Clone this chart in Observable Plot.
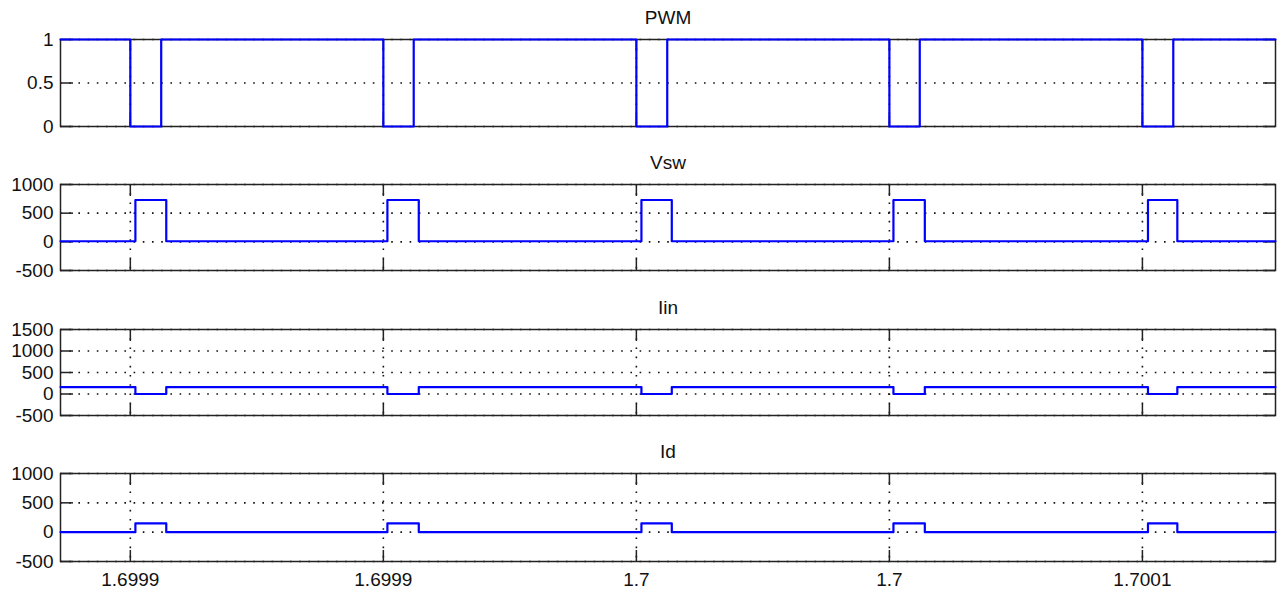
<!DOCTYPE html>
<html><head><meta charset="utf-8">
<script src="https://cdn.jsdelivr.net/npm/d3@7"></script>
<script src="https://cdn.jsdelivr.net/npm/@observablehq/plot@0.6"></script>
<style>
html,body{margin:0;padding:0;background:#fff;}
#chart{position:relative;width:1284px;height:594px;overflow:hidden;}
#chart svg{display:block;position:absolute;left:0;}
</style></head><body><div id="chart"></div>
<script>
// ---- data ----
const panelTitles = ["PWM", "Vsw", "Iin", "Id"];
const xTicks = [1.69990, 1.69995, 1.70000, 1.70005, 1.70010];
const xTickLabels = ["1.6999", "1.6999", "1.7", "1.7", "1.7001"];
const xDomain = [1.6998862, 1.7001263];

// PWM gate signal: drops to 0 at each fall, returns to 1 at each rise
const pwmFall = [1.6999000, 1.6999500, 1.7000000, 1.7000500, 1.7001000];
const pwmRise = [1.6999061, 1.6999560, 1.7000061, 1.7000560, 1.7001061];
const pwmLevels = [1, 0];      // [between pulses, during pulse]

// switch-node events (Vsw, Iin, Id change together)
const swOn  = [1.6999010, 1.6999508, 1.7000010, 1.7000508, 1.7001011];
const swOff = [1.6999071, 1.6999570, 1.7000070, 1.7000570, 1.7001069];
const vswLevels = [10, 730];   // [between pulses, during pulse]
const iinLevels = [160, 0];
const idLevels  = [0, 150];

const yDomainPWM = [0, 1],        yTicksPWM = [0, 0.5, 1];
const yDomainVsw = [-500, 1000],  yTicksVsw = [-500, 0, 500, 1000];
const yDomainIin = [-500, 1500],  yTicksIin = [-500, 0, 500, 1000, 1500];
const yDomainId  = [-500, 1000],  yTicksId  = [-500, 0, 500, 1000];

// ---- build step series ----
function steps(starts, ends, levels) {
  const pts = [{t: xDomain[0], v: levels[0]}];
  starts.forEach((s, i) => {
    pts.push({t: s, v: levels[1]});
    pts.push({t: ends[i], v: levels[0]});
  });
  pts.push({t: xDomain[1], v: levels[0]});
  return pts;
}

const panels = [
  {title: panelTitles[0], data: steps(pwmFall, pwmRise, pwmLevels), domain: yDomainPWM, ticks: yTicksPWM},
  {title: panelTitles[1], data: steps(swOn, swOff, vswLevels), domain: yDomainVsw, ticks: yTicksVsw},
  {title: panelTitles[2], data: steps(swOn, swOff, iinLevels), domain: yDomainIin, ticks: yTicksIin},
  {title: panelTitles[3], data: steps(swOn, swOff, idLevels), domain: yDomainId, ticks: yTicksId}
];

const layout = [
  {top: 0,   mt: 39, boxH: 87, mb: 29},
  {top: 155, mt: 29, boxH: 86, mb: 30},
  {top: 300, mt: 29, boxH: 86, mb: 29},
  {top: 444, mt: 29, boxH: 88, mb: 33}
];

const ink = "#222";
const gridStyle = {stroke: "#111", strokeOpacity: 1, strokeWidth: 1.6, strokeDasharray: "1.6,7.6"};
const tickStyle = {stroke: ink, strokeWidth: 1.5, text: null, label: null};
const font = "'Liberation Sans', Arial, Helvetica, sans-serif";

const root = document.getElementById("chart");
panels.forEach((p, i) => {
  const L = layout[i];
  const last = i === panels.length - 1;
  const svg = Plot.plot({
    width: 1284,
    height: L.mt + L.boxH + L.mb,
    marginLeft: 60, marginRight: 9, marginTop: L.mt, marginBottom: L.mb,
    style: `font-family:${font};font-size:19px;background:transparent;color:#111;overflow:visible;`,
    x: {domain: xDomain},
    y: {domain: p.domain},
    marks: [
      Plot.gridY(p.ticks, gridStyle),
      Plot.gridX(xTicks, gridStyle),
      Plot.frame({stroke: ink, strokeWidth: 1.5}),
      Plot.axisY(p.ticks, {anchor: "left", tickSize: 0, tickPadding: 7, tickFormat: d => String(d), fontSize: 19, label: null}),
      Plot.axisY(p.ticks, {anchor: "right", frameAnchor: "left", tickSize: 12, ...tickStyle}),
      Plot.axisY(p.ticks, {anchor: "left", frameAnchor: "right", tickSize: 12, ...tickStyle}),
      Plot.axisX(xTicks, {anchor: "top", frameAnchor: "bottom", tickSize: 12, ...tickStyle}),
      Plot.axisX(xTicks, {anchor: "bottom", frameAnchor: "top", tickSize: 12, ...tickStyle}),
      last ? Plot.axisX(xTicks, {anchor: "bottom", tickSize: 0, tickPadding: 11, fontSize: 19, label: null,
                                 tickFormat: d => xTickLabels[xTicks.indexOf(d)]}) : null,
      Plot.line(p.data, {x: "t", y: "v", curve: "step-after", stroke: "#0000ff", strokeWidth: 2.2}),
      Plot.text([p.title], {frameAnchor: "top", dy: -22, lineAnchor: "middle", fontSize: 19, fill: "#111"})
    ]
  });
  svg.style.top = L.top + "px";
  root.appendChild(svg);
});
</script></body></html>
